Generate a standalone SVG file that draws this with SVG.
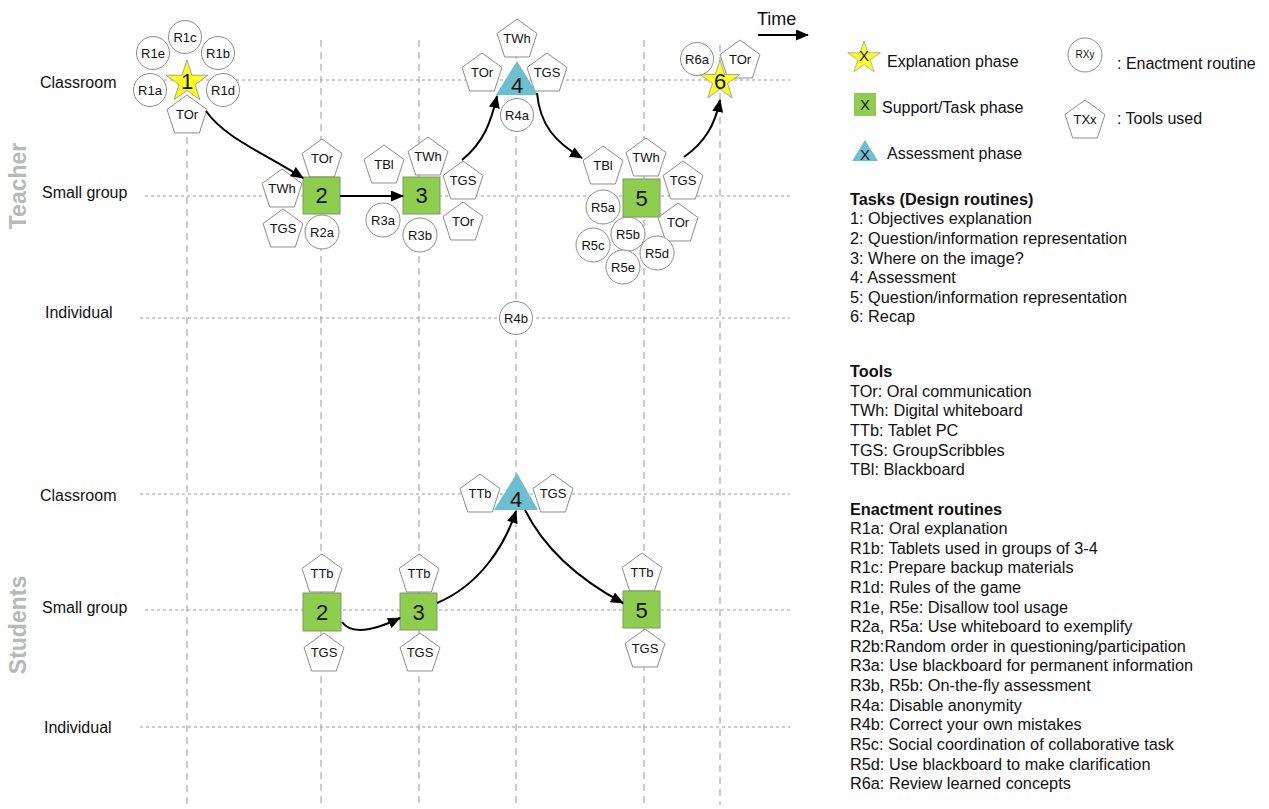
<svg xmlns="http://www.w3.org/2000/svg" xmlns:xlink="http://www.w3.org/1999/xlink" width="1269" height="809" viewBox="0 0 1269 809">
<style>
text{font-family:"Liberation Sans",Arial,sans-serif;fill:#111}
.lbl{font-size:16px}
.side{font-size:23px;font-weight:bold;fill:#b8b8b8}
.nt{font-size:13px;text-anchor:middle}
.num{font-size:22px;text-anchor:middle}
.hg{stroke:#9a9a9a;stroke-width:1;stroke-dasharray:3 3;fill:none}
.vg{stroke:#9a9a9a;stroke-width:1;stroke-dasharray:7 5;fill:none}
.circ{fill:#fff;stroke:#8c8c8c;stroke-width:1}
.pent{fill:#fff;stroke:#8c8c8c;stroke-width:1}
.star{fill:#ffff1a;stroke:#a0a0a0;stroke-width:1}
.sq{fill:#8fcd4e;stroke:#7a9a6a;stroke-width:1}
.tri{fill:#6cbfcf;stroke:none}
.arr{fill:none;stroke:#000;stroke-width:2;marker-end:url(#ah)}
.list{font-size:16.3px}
.head{font-size:16.3px;font-weight:bold}
.lx{font-size:15px;text-anchor:middle}
</style>
<defs>
<marker id="ah" viewBox="0 0 13 11" refX="12" refY="5.5" markerWidth="13" markerHeight="11" markerUnits="userSpaceOnUse" orient="auto">
<path d="M0,0 L13,5.5 L0,11 Z" fill="#000"/>
</marker>
<path id="pent" d="M0,-21 L19.97,-6.49 L12.34,16.99 L-12.34,16.99 L-19.97,-6.49Z"/>
<path id="star" d="M0,-22 L4.94,-6.8 L20.92,-6.8 L7.99,2.6 L12.93,17.8 L0,8.4 L-12.93,17.8 L-7.99,2.6 L-20.92,-6.8 L-4.94,-6.8 Z"/>
</defs>
<rect width="1269" height="809" fill="#fff"/>

<g id="grid">
<path class="hg" d="M140,80H790M145,196H790M140,318H790M140,494H790M145,610H790M140,727H790"/>
<path class="vg" d="M187,125V805M321,40V805M419,40V805M516,40V805M644,40V805M720,45V805"/>
</g>

<g id="axis-labels">
<text class="lbl" x="40" y="88">Classroom</text>
<text class="lbl" x="42" y="198">Small group</text>
<text class="lbl" x="45" y="318">Individual</text>
<text class="lbl" x="40" y="501">Classroom</text>
<text class="lbl" x="42" y="613">Small group</text>
<text class="lbl" x="44" y="733">Individual</text>
<text class="side" transform="translate(26,186) rotate(-90)" text-anchor="middle">Teacher</text>
<text class="side" transform="translate(26,625) rotate(-90)" text-anchor="middle">Students</text>
</g>

<g id="time">
<text x="757" y="25" style="font-size:18px">Time</text>
<line x1="758" y1="35" x2="808" y2="35" stroke="#000" stroke-width="2" marker-end="url(#ah)"/>
</g>

<g id="t1">
<circle class="circ" cx="185" cy="37" r="16.5"/><text class="nt" x="185" y="42">R1c</text>
<circle class="circ" cx="153" cy="53" r="16.5"/><text class="nt" x="153" y="58">R1e</text>
<circle class="circ" cx="218" cy="53" r="16.5"/><text class="nt" x="218" y="58">R1b</text>
<circle class="circ" cx="150" cy="90" r="16.5"/><text class="nt" x="150" y="95">R1a</text>
<circle class="circ" cx="223" cy="90" r="16.5"/><text class="nt" x="223" y="95">R1d</text>
<use href="#pent" class="pent" x="187" y="116"/><text class="nt" x="187" y="119">TOr</text>
<use href="#star" class="star" x="187" y="82"/><text class="num" x="187" y="89">1</text>
</g>

<g id="t2">
<use href="#pent" class="pent" x="322" y="160"/><text class="nt" x="322" y="163">TOr</text>
<use href="#pent" class="pent" x="282" y="190"/><text class="nt" x="282" y="193">TWh</text>
<use href="#pent" class="pent" x="283" y="230"/><text class="nt" x="283" y="233">TGS</text>
<circle class="circ" cx="322" cy="232" r="17"/><text class="nt" x="322" y="237">R2a</text>
<rect class="sq" x="303" y="177" width="37" height="37"/><text class="num" x="321.5" y="203">2</text>
</g>

<g id="t3">
<use href="#pent" class="pent" x="384" y="166"/><text class="nt" x="384" y="169">TBl</text>
<use href="#pent" class="pent" x="428" y="158"/><text class="nt" x="428" y="161">TWh</text>
<use href="#pent" class="pent" x="463" y="182"/><text class="nt" x="463" y="185">TGS</text>
<use href="#pent" class="pent" x="463" y="223"/><text class="nt" x="463" y="226">TOr</text>
<circle class="circ" cx="383" cy="220" r="17"/><text class="nt" x="383" y="225">R3a</text>
<circle class="circ" cx="420" cy="235" r="17"/><text class="nt" x="420" y="240">R3b</text>
<rect class="sq" x="403" y="177" width="37" height="37"/><text class="num" x="421.5" y="203">3</text>
</g>

<g id="t4">
<use href="#pent" class="pent" x="517" y="40"/><text class="nt" x="517" y="43">TWh</text>
<use href="#pent" class="pent" x="482" y="74"/><text class="nt" x="482" y="77">TOr</text>
<use href="#pent" class="pent" x="547" y="74"/><text class="nt" x="547" y="77">TGS</text>
<circle class="circ" cx="517" cy="115" r="16.5"/><text class="nt" x="517" y="120">R4a</text>
<path class="tri" d="M517,61 L538,95 L496,95 Z"/><text class="num" x="517" y="93">4</text>
<circle class="circ" cx="516" cy="318" r="16.5"/><text class="nt" x="516" y="323">R4b</text>
</g>

<g id="t5">
<use href="#pent" class="pent" x="603" y="167"/><text class="nt" x="603" y="170">TBl</text>
<use href="#pent" class="pent" x="646" y="159"/><text class="nt" x="646" y="162">TWh</text>
<use href="#pent" class="pent" x="683" y="182"/><text class="nt" x="683" y="185">TGS</text>
<use href="#pent" class="pent" x="678" y="224"/><text class="nt" x="678" y="227">TOr</text>
<circle class="circ" cx="603" cy="207" r="17"/><text class="nt" x="603" y="212">R5a</text>
<circle class="circ" cx="593" cy="245" r="17"/><text class="nt" x="593" y="250">R5c</text>
<circle class="circ" cx="628" cy="234" r="17"/><text class="nt" x="628" y="239">R5b</text>
<circle class="circ" cx="657" cy="253" r="17"/><text class="nt" x="657" y="258">R5d</text>
<circle class="circ" cx="623" cy="267" r="17"/><text class="nt" x="623" y="272">R5e</text>
<rect class="sq" x="623" y="179" width="37" height="38"/><text class="num" x="641.5" y="206">5</text>
</g>

<g id="t6">
<circle class="circ" cx="697" cy="59" r="16.5"/><text class="nt" x="697" y="64">R6a</text>
<use href="#pent" class="pent" x="740" y="61"/><text class="nt" x="740" y="64">TOr</text>
<use href="#star" class="star" transform="translate(720,81) scale(0.95)"/><text class="num" x="720" y="89">6</text>
</g>

<g id="s2">
<use href="#pent" class="pent" x="322" y="575"/><text class="nt" x="322" y="578">TTb</text>
<use href="#pent" class="pent" x="324" y="654"/><text class="nt" x="324" y="657">TGS</text>
<rect class="sq" x="303" y="593" width="38" height="38"/><text class="num" x="322" y="620">2</text>
</g>
<g id="s3">
<use href="#pent" class="pent" x="419" y="575"/><text class="nt" x="419" y="578">TTb</text>
<use href="#pent" class="pent" x="420" y="654"/><text class="nt" x="420" y="657">TGS</text>
<rect class="sq" x="400" y="593" width="37" height="37"/><text class="num" x="418.5" y="620">3</text>
</g>
<g id="s4">
<use href="#pent" class="pent" x="480" y="495"/><text class="nt" x="480" y="498">TTb</text>
<use href="#pent" class="pent" x="553" y="495"/><text class="nt" x="553" y="498">TGS</text>
<path class="tri" d="M517,473 L538,510 L494,510 Z"/><text class="num" x="516" y="507">4</text>
</g>
<g id="s5">
<use href="#pent" class="pent" x="642" y="574"/><text class="nt" x="642" y="577">TTb</text>
<use href="#pent" class="pent" x="645" y="650"/><text class="nt" x="645" y="653">TGS</text>
<rect class="sq" x="623" y="591" width="37" height="37"/><text class="num" x="641.5" y="618">5</text>
</g>

<g id="connectors">
<path class="arr" d="M206,111 C225,138 262,152 303,178"/>
<path class="arr" d="M340,196 L403,196"/>
<path class="arr" d="M462,160 C484,142 491,122 497,96"/>
<path class="arr" d="M537,93 C540,125 555,142 582,158"/>
<path class="arr" d="M684,157 C705,142 715,125 720,100"/>
<path class="arr" d="M342,622 C352,636 375,630 400,618"/>
<path class="arr" d="M437,603 C480,585 505,545 516,511"/>
<path class="arr" d="M525,510 C545,550 580,580 623,603"/>
</g>

<g id="legend">
<use href="#star" class="star" transform="translate(864,58) scale(0.78)"/><text class="lx" x="864" y="61">X</text>
<text class="lbl" x="887" y="67">Explanation phase</text>
<rect class="sq" x="854" y="93" width="22" height="23" style="stroke:none"/><text class="lx" x="865" y="110">X</text>
<text class="lbl" x="882" y="113">Support/Task phase</text>
<path class="tri" d="M865,140 L878,161 L852,161 Z"/><text class="lx" x="865" y="160">X</text>
<text class="lbl" x="887" y="159">Assessment phase</text>
<circle class="circ" cx="1085" cy="55" r="17"/><text x="1085" y="58" style="font-size:10px" text-anchor="middle">RXy</text>
<text class="lbl" x="1117" y="69">: Enactment routine</text>
<use href="#pent" class="pent" x="1085" y="121"/><text class="nt" x="1085" y="124">TXx</text>
<text class="lbl" x="1117" y="124">: Tools used</text>
</g>

<g id="lists">
<text class="head" x="850" y="205">Tasks (Design routines)</text>
<text class="list" x="850" y="224">1: Objectives explanation</text>
<text class="list" x="850" y="244">2: Question/information representation</text>
<text class="list" x="850" y="264">3: Where on the image?</text>
<text class="list" x="850" y="283">4: Assessment</text>
<text class="list" x="850" y="303">5: Question/information representation</text>
<text class="list" x="850" y="322">6: Recap</text>

<text class="head" x="850" y="377">Tools</text>
<text class="list" x="850" y="397">TOr: Oral communication</text>
<text class="list" x="850" y="416">TWh: Digital whiteboard</text>
<text class="list" x="850" y="436">TTb: Tablet PC</text>
<text class="list" x="850" y="456">TGS: GroupScribbles</text>
<text class="list" x="850" y="475">TBl: Blackboard</text>

<text class="head" x="850" y="515">Enactment routines</text>
<text class="list" x="850" y="534">R1a: Oral explanation</text>
<text class="list" x="850" y="554">R1b: Tablets used in groups of 3-4</text>
<text class="list" x="850" y="573">R1c: Prepare backup materials</text>
<text class="list" x="850" y="593">R1d: Rules of the game</text>
<text class="list" x="850" y="613">R1e, R5e: Disallow tool usage</text>
<text class="list" x="850" y="632">R2a, R5a: Use whiteboard to exemplify</text>
<text class="list" x="850" y="652">R2b:Random order in questioning/participation</text>
<text class="list" x="850" y="671">R3a: Use blackboard for permanent information</text>
<text class="list" x="850" y="691">R3b, R5b: On-the-fly assessment</text>
<text class="list" x="850" y="711">R4a: Disable anonymity</text>
<text class="list" x="850" y="730">R4b: Correct your own mistakes</text>
<text class="list" x="850" y="750">R5c: Social coordination of collaborative task</text>
<text class="list" x="850" y="770">R5d: Use blackboard to make clarification</text>
<text class="list" x="850" y="789">R6a: Review learned concepts</text>
</g>
</svg>
